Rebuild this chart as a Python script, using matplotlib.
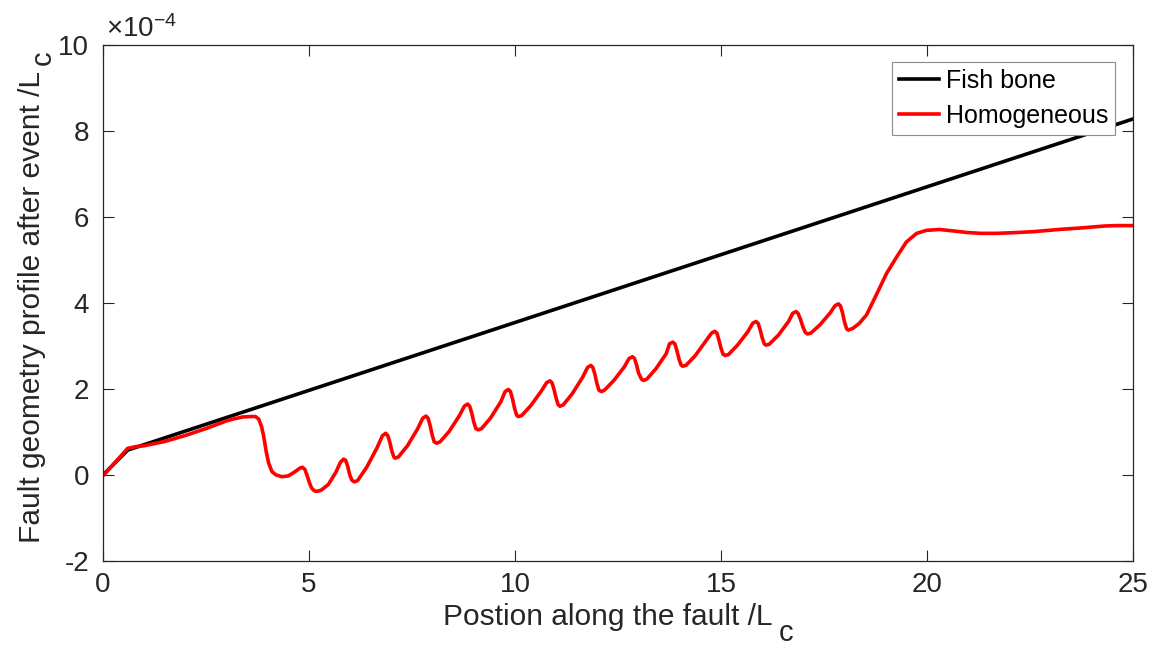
import matplotlib
matplotlib.use('Agg')
import matplotlib.pyplot as plt
from matplotlib.transforms import IdentityTransform

plt.rcParams['font.family'] = ['Liberation Sans', 'DejaVu Sans']
plt.rcParams['mathtext.fontset'] = 'custom'
plt.rcParams['mathtext.rm'] = 'Liberation Sans'
plt.rcParams['mathtext.it'] = 'Liberation Sans:italic'

# profiles in units of 1e-4
fish_x = [0.0, 0.6, 25.0]
fish_y = [0.0, 0.58, 8.28]

homo_x = [0.0, 0.6, 0.8, 1.0, 1.5, 2.0, 2.5, 3.0, 3.2, 3.4, 3.6, 3.7, 3.78, 3.85, 3.9, 3.96, 4.02,
          4.1, 4.2, 4.35, 4.5, 4.65, 4.78, 4.84, 4.9, 4.95, 5.0, 5.06, 5.13, 5.2, 5.3, 5.47, 5.65,
          5.76, 5.84, 5.89, 5.94, 5.99, 6.04, 6.1,
          6.18, 6.4, 6.65, 6.78, 6.86, 6.91, 6.96, 7.01, 7.06, 7.09,
          7.17, 7.39, 7.64, 7.76, 7.84, 7.89, 7.94, 7.99, 8.04, 8.1,
          8.18, 8.4, 8.65, 8.77, 8.85, 8.9, 8.95, 9.0, 9.05, 9.11,
          9.19, 9.41, 9.66, 9.76, 9.84, 9.89, 9.94, 9.99, 10.04, 10.08,
          10.16, 10.38, 10.63, 10.77, 10.85, 10.9, 10.95, 11.0, 11.05, 11.09,
          11.17, 11.39, 11.64, 11.76, 11.84, 11.89, 11.94, 11.99, 12.04, 12.1,
          12.18, 12.4, 12.65, 12.77, 12.85, 12.9, 12.95, 13.0, 13.07, 13.12,
          13.2, 13.42, 13.67, 13.75, 13.83, 13.88, 13.93, 13.98, 14.03, 14.07,
          14.15, 14.37, 14.62, 14.77, 14.85, 14.9, 14.95, 15.0, 15.05, 15.1,
          15.18, 15.4, 15.65, 15.77, 15.85, 15.9, 15.95, 16.0, 16.05, 16.09,
          16.17, 16.39, 16.64, 16.74, 16.82, 16.87, 16.93, 16.99, 17.05, 17.1,
          17.18, 17.4, 17.65, 17.77, 17.85, 17.9, 17.95, 18.0, 18.05, 18.09,
          18.2, 18.35, 18.53, 18.75, 19.02, 19.25, 19.5, 19.75, 19.99, 20.3, 20.6, 20.97,
          21.3, 21.7, 22.2, 22.6, 23.2, 23.8, 24.3, 24.6, 25.0]
homo_y = [-0.02, 0.62, 0.66, 0.68, 0.78, 0.92, 1.08, 1.26, 1.31, 1.35, 1.36, 1.36, 1.30, 1.12, 0.90, 0.55, 0.28,
          0.08, 0.0, -0.04, -0.02, 0.07, 0.16, 0.18, 0.13, 0.0, -0.15, -0.30, -0.37, -0.38, -0.35, -0.22, 0.06,
          0.29, 0.37, 0.34, 0.20, 0.0, -0.12, -0.16,
          -0.13, 0.18, 0.63, 0.91, 0.97, 0.92, 0.77, 0.56, 0.42, 0.39,
          0.42, 0.68, 1.08, 1.32, 1.37, 1.32, 1.15, 0.93, 0.77, 0.74,
          0.77, 1.01, 1.38, 1.60, 1.65, 1.60, 1.44, 1.23, 1.08, 1.05,
          1.08, 1.33, 1.71, 1.94, 1.99, 1.94, 1.77, 1.55, 1.39, 1.36,
          1.38, 1.61, 1.94, 2.15, 2.19, 2.14, 1.98, 1.78, 1.63, 1.60,
          1.63, 1.89, 2.27, 2.50, 2.55, 2.50, 2.34, 2.12, 1.97, 1.94,
          1.98, 2.20, 2.51, 2.71, 2.75, 2.71, 2.56, 2.37, 2.23, 2.20,
          2.23, 2.47, 2.82, 3.05, 3.09, 3.05, 2.89, 2.70, 2.56, 2.53,
          2.55, 2.77, 3.10, 3.30, 3.34, 3.30, 3.14, 2.95, 2.81, 2.78,
          2.80, 3.02, 3.33, 3.53, 3.57, 3.53, 3.38, 3.19, 3.05, 3.02,
          3.04, 3.25, 3.57, 3.76, 3.80, 3.76, 3.62, 3.44, 3.31, 3.28,
          3.30, 3.49, 3.77, 3.94, 3.98, 3.93, 3.77, 3.55, 3.40, 3.37,
          3.41, 3.52, 3.72, 4.15, 4.69, 5.05, 5.42, 5.62, 5.69, 5.71, 5.68, 5.64,
          5.62, 5.62, 5.64, 5.66, 5.71, 5.75, 5.79, 5.80, 5.80]

xticks = [0, 5, 10, 15, 20, 25]
yticks = [-2, 0, 2, 4, 6, 8, 10]

AX = '#262626'
W, H = 1159, 662
fig = plt.figure(figsize=(W / 100, H / 100), dpi=100)
ax = fig.add_axes([103 / W, 1 - 561 / H, 1030 / W, 516 / H])

ax.plot(fish_x, fish_y, color='black', lw=2.6, label='Fish bone')
ax.plot(homo_x, homo_y, color='red', lw=2.6, label='Homogeneous')

ax.set_xlim(0, 25)
ax.set_ylim(-2, 10)
ax.set_xticks(xticks)
ax.set_yticks(yticks)
ax.set_xticklabels([str(t) for t in xticks])
ax.set_yticklabels([str(t) for t in yticks])
ax.tick_params(direction='in', length=8, width=0.8, colors=AX, labelsize=20,
               top=True, right=True)
ax.tick_params(axis='x', pad=8)
ax.tick_params(axis='y', pad=10)
for s in ax.spines.values():
    s.set_color(AX)
    s.set_linewidth(0.9)

leg = ax.legend(loc='upper right', bbox_to_anchor=(0.983, 0.968), borderaxespad=0,
                fontsize=18, fancybox=False, framealpha=1, edgecolor='#8c8c8c',
                handlelength=1.6, handletextpad=0.25, borderpad=0.3, labelspacing=0.42)
leg.get_frame().set_linewidth(0.8)

# MATLAB style exponent and labels with a lowered "c"
px = IdentityTransform()
fig.text(106, H - 37, r'$\times10^{-4}$', transform=px, fontsize=20, color=AX,
         ha='left', va='baseline')
xl = fig.text(608, H - 625, 'Postion along the fault /L', transform=px, fontsize=21.5,
              color=AX, ha='center', va='baseline')
yl = fig.text(40, 355, 'Fault geometry profile after event /L', transform=px, fontsize=21.5,
              color=AX, ha='center', va='baseline', rotation=90, rotation_mode='anchor')
fig.canvas.draw()
r = fig.canvas.get_renderer()
bx = xl.get_window_extent(r)
by = yl.get_window_extent(r)
fig.text(bx.x1 + 6, H - 641, 'c', transform=px, fontsize=21, color=AX,
         ha='left', va='baseline')
fig.text(40 + 11, by.y1 + 6, 'c', transform=px, fontsize=21, color=AX,
         ha='left', va='baseline', rotation=90, rotation_mode='anchor')

fig.savefig('out.png', dpi=100)
